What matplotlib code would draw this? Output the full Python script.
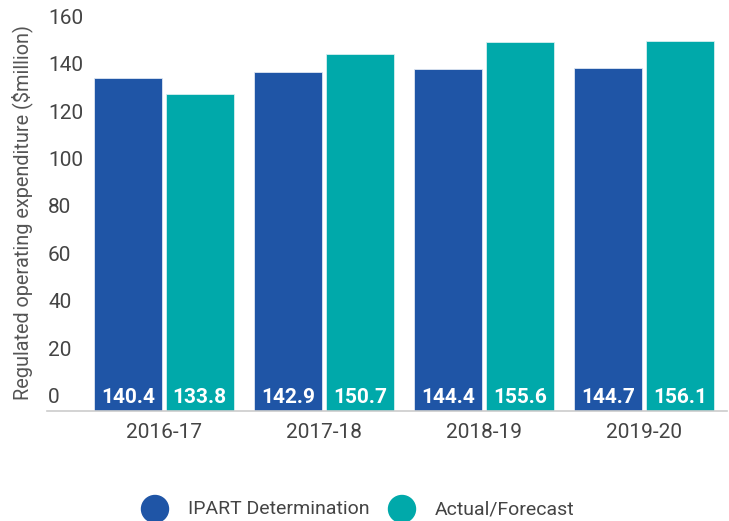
import matplotlib
matplotlib.use("Agg")
import matplotlib.pyplot as plt
from matplotlib.patches import Circle
from matplotlib.transforms import offset_copy
import numpy as np

plt.rcParams['font.family'] = ['Roboto', 'DejaVu Sans']

years = ["2016-17", "2017-18", "2018-19", "2019-20"]
ipart = [140.4, 142.9, 144.4, 144.7]
actual = [133.8, 150.7, 155.6, 156.1]
yticks = [0, 20, 40, 60, 80, 100, 120, 140, 160]
series_names = ["IPART Determination", "Actual/Forecast"]

BLUE = "#1F55A6"
TEAL = "#00A9AA"
TEXT = "#444444"

W, H = 729, 521
fig = plt.figure(figsize=(W / 100, H / 100), dpi=100)
ax = fig.add_axes([47 / W, 110 / H, 680 / W, 379.2 / H])

x = np.arange(len(years))
bw = 0.425
off = 0.225
b1 = ax.bar(x - off, ipart, bw, color=BLUE, edgecolor="#dfe6f2", linewidth=0.6)
b2 = ax.bar(x + off, actual, bw, color=TEAL, edgecolor="#d6efef", linewidth=0.6)

ax.set_xlim(-0.73, 3.52)
ax.set_ylim(0, 160)

for s in ["top", "right", "left"]:
    ax.spines[s].set_visible(False)
ax.spines["bottom"].set_color("#cccccc")
ax.spines["bottom"].set_linewidth(1.2)

ax.set_yticks([])
ax.set_xticks(x)
ax.set_xticklabels(years, fontsize=15, color=TEXT)
ax.tick_params(axis="x", length=0, pad=9)

# y tick labels sit just above their gridline value, left-aligned inside the plot
ytrans = offset_copy(ax.get_yaxis_transform(), fig=fig, x=0, y=13.5, units="dots")
for v in yticks:
    ax.text(0.0015, v, str(v), transform=ytrans, ha="left", va="center",
            fontsize=15, color=TEXT)

# value labels at the foot of each bar
ltrans = offset_copy(ax.transData, fig=fig, x=0, y=4, units="dots")
for bars, vals in ((b1, ipart), (b2, actual)):
    for rect, v in zip(bars, vals):
        ax.text(rect.get_x() + rect.get_width() / 2, 0, f"{v:.1f}",
                transform=ltrans, ha="center", va="bottom",
                fontsize=15, color="white", fontweight="bold")

fig.text(22 / W, 1 - 212 / H, "Regulated operating expenditure ($million)",
         rotation=90, ha="center", va="center", fontsize=14.3, color="#555555")

# legend with round markers
for cx, label, col in ((155, series_names[0], BLUE), (402, series_names[1], TEAL)):
    circ = Circle((cx / 100, (H - 509) / 100), 0.135,
                  transform=fig.dpi_scale_trans, color=col, zorder=5)
    fig.patches.append(circ)
    fig.text((cx + 33) / W, 1 - 509 / H, label, ha="left", va="center",
             fontsize=14, color=TEXT)

fig.savefig("out.png", dpi=100)
